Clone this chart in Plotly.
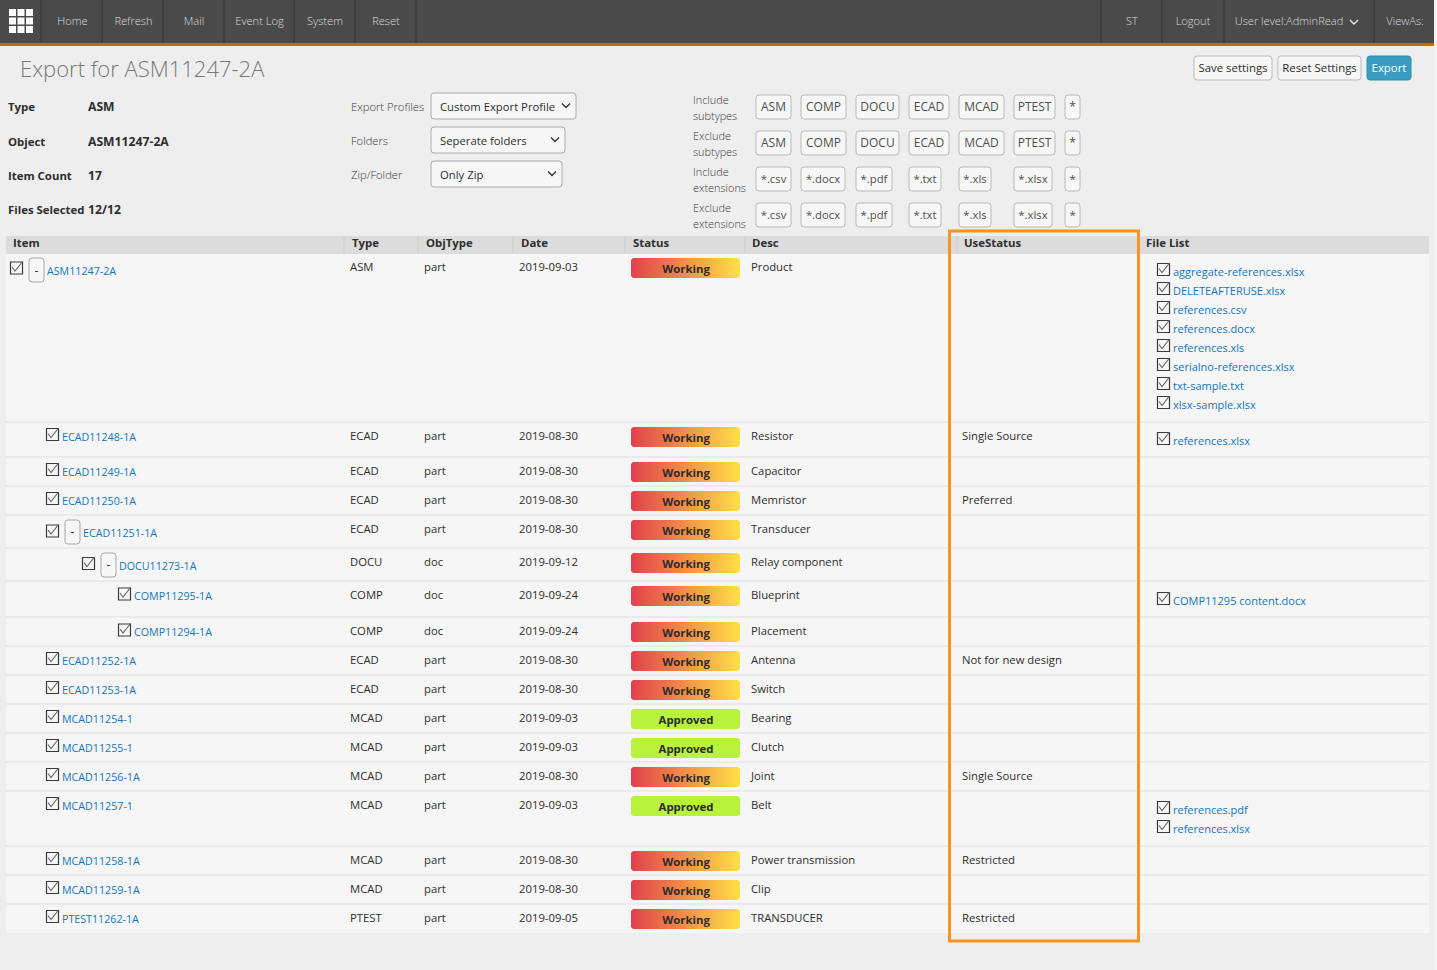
import plotly.graph_objects as go

W, H = 1437, 970
FONT = "Open Sans"

# Table data
item_names = ["ASM11247-2A", "ECAD11248-1A", "ECAD11249-1A", "ECAD11250-1A", "ECAD11251-1A", "DOCU11273-1A",
              "COMP11295-1A", "COMP11294-1A", "ECAD11252-1A", "ECAD11253-1A", "MCAD11254-1", "MCAD11255-1",
              "MCAD11256-1A", "MCAD11257-1", "MCAD11258-1A", "MCAD11259-1A", "PTEST11262-1A"]
item_types = ["ASM", "ECAD", "ECAD", "ECAD", "ECAD", "DOCU", "COMP", "COMP", "ECAD", "ECAD", "MCAD", "MCAD",
              "MCAD", "MCAD", "MCAD", "MCAD", "PTEST"]
obj_types = ["part", "part", "part", "part", "part", "doc", "doc", "doc", "part", "part", "part", "part",
             "part", "part", "part", "part", "part"]
dates = ["2019-09-03", "2019-08-30", "2019-08-30", "2019-08-30", "2019-08-30", "2019-09-12", "2019-09-24",
         "2019-09-24", "2019-08-30", "2019-08-30", "2019-09-03", "2019-09-03", "2019-08-30", "2019-09-03",
         "2019-08-30", "2019-08-30", "2019-09-05"]
statuses = ["Working"] * 10 + ["Approved", "Approved", "Working", "Approved", "Working", "Working", "Working"]
descs = ["Product", "Resistor", "Capacitor", "Memristor", "Transducer", "Relay component", "Blueprint", "Placement",
         "Antenna", "Switch", "Bearing", "Clutch", "Joint", "Belt", "Power transmission", "Clip", "TRANSDUCER"]
use_status = ["", "Single Source", "", "Preferred", "", "", "", "", "Not for new design", "", "", "",
              "Single Source", "", "Restricted", "", "Restricted"]
file_names = ["aggregate-references.xlsx", "DELETEAFTERUSE.xlsx", "references.csv", "references.docx", "references.xls",
              "serialno-references.xlsx", "txt-sample.txt", "xlsx-sample.xlsx", "references.xlsx",
              "COMP11295 content.docx", "references.pdf", "references.xlsx"]

headers = ["Item", "Type", "ObjType", "Date", "Status", "Desc", "UseStatus", "File List"]
nav_left = ["Home", "Refresh", "Mail", "Event Log", "System", "Reset"]
nav_right = ["ST", "Logout", "User level:AdminRead", "ViewAs:"]
info_labels = ["Type", "Object", "Item Count", "Files Selected"]
info_values = ["ASM", "ASM11247-2A", "17", "12/12"]
form_labels = ["Export Profiles", "Folders", "Zip/Folder"]
form_values = ["Custom Export Profile", "Seperate folders", "Only Zip"]
filter_labels = [("Include", "subtypes"), ("Exclude", "subtypes"), ("Include", "extensions"), ("Exclude", "extensions")]
subtype_buttons = ["ASM", "COMP", "DOCU", "ECAD", "MCAD", "PTEST", "*"]
ext_buttons = ["*.csv", "*.docx", "*.pdf", "*.txt", "*.xls", "*.xlsx", "*"]

# Page layout, in pixels
row_tops = [254, 422, 457, 486, 515, 548, 581, 617, 646, 675, 704, 733, 762, 791, 846, 875, 904]
table_bottom = 933
check_x = [16.5, 52.5, 52.5, 52.5, 52.5, 88.5, 124.5, 124.5] + [52.5] * 9
check_dy = [14, 12.5, 12.5, 12.5, 16, 15.5, 13, 13] + [12.5] * 9
link_x = [47, 62, 62, 62, 83, 119, 134, 134] + [62] * 9
link_dy = [17, 15, 15, 15, 18, 18, 15, 15] + [15] * 9
minus_left = {0: 29, 4: 65, 5: 101}
header_x = [13, 352, 426, 521, 633, 752, 964, 1146]
header_div = [344, 418, 513, 625, 745, 957]
file_check_y = [269.5, 288.5, 307.5, 326.5, 345.5, 364.5, 383.5, 402.5, 438.5, 598.5, 807.5, 826.5]
file_text_y = [272, 291, 310, 329, 348, 367, 386, 405, 441, 601, 810, 829]
file_text_x = [1173] * 12
nav_div = [41, 102, 163, 224, 294, 355, 416, 1101, 1162, 1224, 1374]
nav_left_x = [72.5, 133.5, 194, 259.5, 325, 386]
nav_right_x = [1132, 1193, 1289, 1405]
sub_spans = [(756, 791), (801, 846), (856, 899), (909, 949), (959, 1004), (1014, 1055), (1065, 1080)]
ext_spans = [(756, 791), (801, 845), (856, 892), (909, 941), (959, 991), (1014, 1052), (1065, 1080)]
filter_tops = [95, 131, 167, 203]
form_boxes = [(431, 576, 93, 119), (431, 565, 127, 153), (431, 562, 161, 187)]
form_y = [107, 141, 175]
info_y = [107, 142, 176, 210]

DARK = "#2e2e2e"
LINK = "#1476bd"
GREY = "#3a3a3a"


def rrect(x0, x1, y0, y1, r=3):
    return (f"M{x0+r},{y0} L{x1-r},{y0} Q{x1},{y0} {x1},{y0+r} L{x1},{y1-r} Q{x1},{y1} {x1-r},{y1} "
            f"L{x0+r},{y1} Q{x0},{y1} {x0},{y1-r} L{x0},{y0+r} Q{x0},{y0} {x0+r},{y0} Z")


fig = go.Figure()
shapes = []


def rect(x0, x1, y0, y1, fill, line=None, width=1, layer="below"):
    shapes.append(dict(type="rect", x0=x0, x1=x1, y0=y0, y1=y1, fillcolor=fill, layer=layer,
                       line=dict(color=line or "rgba(0,0,0,0)", width=width if line else 0)))


def button(x0, x1, y0, y1, fill="#f7f7f7", line="#b9b9b9", r=3):
    shapes.append(dict(type="path", path=rrect(x0, x1, y0, y1, r), fillcolor=fill, layer="below",
                       line=dict(color=line, width=1)))


def add_text(xs, ys, texts, color=DARK, size=11.3, weight=400, pos="middle right"):
    fig.add_trace(go.Scatter(x=xs, y=ys, text=texts, mode="text", textposition=pos, cliponaxis=False,
                             hoverinfo="skip",
                             textfont=dict(family=FONT, size=size, color=color, weight=weight)))


def add_checks(xs, ys):
    fig.add_trace(go.Scatter(x=xs, y=ys, mode="markers", hoverinfo="skip",
                             marker=dict(symbol="square", size=12, color="#f7f7f7",
                                         line=dict(color="#3a3a3a", width=1.2))))
    lx, ly = [], []
    for x, y in zip(xs, ys):
        lx += [x - 4.5, x - 1.5, x + 6, None]
        ly += [y - 1, y + 3, y - 6.5, None]
    fig.add_trace(go.Scatter(x=lx, y=ly, mode="lines", hoverinfo="skip", line=dict(color="#666666", width=1.1)))


def add_chevron(x, y):
    shapes.append(dict(type="path", path=f"M{x-4},{y-2} L{x},{y+2} L{x+4},{y-2}", layer="above",
                       line=dict(color="#333333", width=1.4)))


# Nav bar
rect(0, 1434, 0, 43, "#4a4a4a")
rect(0, 1434, 43, 46, "#c76b05")
rect(1434, W, 0, H, "#f4f4f4")
for x in nav_div:
    shapes.append(dict(type="line", x0=x, x1=x, y0=0, y1=43, layer="below", line=dict(color="#333333", width=1)))
fig.add_trace(go.Scatter(x=[12.5, 21, 29.5] * 3, y=[12.5] * 3 + [21] * 3 + [29.5] * 3, mode="markers",
                         hoverinfo="skip", marker=dict(symbol="square", size=7, color="#ffffff")))
add_text(nav_left_x, [22] * 6, nav_left, "#dcdcdc", 11.1, 300, "middle center")
add_text(nav_right_x, [22] * 4, nav_right, "#dcdcdc", 11.1, 300, "middle center")
shapes.append(dict(type="path", path="M1350,20 L1354,24 L1358,20", layer="above",
                   line=dict(color="#e8e8e8", width=1.4)))

# Heading and action buttons
add_text([20], [71.5], ["Export for ASM11247-2A"], "#777777", 22, 300)
button(1194, 1272, 56, 80)
button(1278, 1361, 56, 80)
button(1367, 1411, 56, 80, "#3a9cc0", "#2f8fb0")
add_text([1233, 1319.5, 1389], [69.5] * 3, ["Save settings", "Reset Settings", "Export"],
         [DARK, DARK, "#ffffff"], 11.4, 400, "middle center")

# Info block
add_text([8] * 4, [y + 1 for y in info_y], info_labels, DARK, 11.4, 700)
add_text([88] * 4, [y + 1 for y in info_y], info_values, DARK, 12.2, 700)

# Form block
add_text([351] * 3, [y + 1 for y in form_y], form_labels, GREY, 11.2, 300)
for box in form_boxes:
    button(*box, fill="#f7f7f7", line="#aaaaaa")
add_text([440] * 3, [y + 1 for y in form_y], form_values, DARK, 11.3, 400)
add_chevron(566, 105.5)
add_chevron(555, 139.5)
add_chevron(552, 173.5)

# Filter buttons
for top, (a, b) in zip(filter_tops, filter_labels):
    add_text([693, 693], [top + 6, top + 22], [a, b], GREY, 10.9, 300)
for i, top in enumerate(filter_tops):
    spans = sub_spans if i < 2 else ext_spans
    labels = subtype_buttons if i < 2 else ext_buttons
    size = 12 if i < 2 else 11.3
    for s in spans:
        button(s[0], s[1], top, top + 24)
    add_text([(s[0] + s[1]) / 2 for s in spans], [top + 13] * 7, labels, "#4f4f4f", size, 400, "middle center")

# Table
rect(6, 1429, 254, table_bottom, "#f6f6f6")
rect(6, 1429, 236, 254, "#dcdcdc")
for x in header_div:
    shapes.append(dict(type="line", x0=x, x1=x, y0=236, y1=254, layer="below", line=dict(color="#cfcfcf", width=1)))
for y in row_tops[1:]:
    shapes.append(dict(type="line", x0=6, x1=1429, y0=y, y1=y, layer="below", line=dict(color="#dfdfdf", width=1)))
add_text(header_x, [244] * 8, headers, DARK, 11.4, 700)

text_y = [t + (14 if i == 0 else 15) for i, t in enumerate(row_tops)]
add_text([350] * 17, text_y, item_types)
add_text([424] * 17, text_y, obj_types)
add_text([519] * 17, text_y, dates)
add_text([751] * 17, text_y, descs)
add_text([962] * 17, text_y, use_status)

# Status badges
for top, status in zip(row_tops, statuses):
    y0 = top + (4 if top == 254 else 5)
    y1 = y0 + 20
    bx = [633, 738, 740, 740, 738, 633, 631, 631, 633]
    by = [y0, y0, y0 + 2, y1 - 2, y1, y1, y1 - 2, y0 + 2, y0]
    if status == "Working":
        fig.add_trace(go.Scatter(x=bx, y=by, mode="lines", fill="toself", hoverinfo="skip", line=dict(width=0),
                                 fillgradient=dict(type="horizontal",
                                                   colorscale=[[0, "#e2404c"], [0.5, "#f29048"], [1, "#ffe045"]])))
    else:
        fig.add_trace(go.Scatter(x=bx, y=by, mode="lines", fill="toself", hoverinfo="skip", line=dict(width=0),
                                 fillcolor="#b8f23a"))
add_text([686] * 17, [t + (16 if i == 0 else 17) for i, t in enumerate(row_tops)], statuses, "#2b2b2b", 11.4, 700,
         "middle center")

# Item column
for i, left in minus_left.items():
    y0 = row_tops[i] + (4 if i == 0 else 5)
    button(left, left + 15, y0, y0 + 24, line="#a8a8a8")
add_text([left + 7.5 for left in minus_left.values()],
         [row_tops[i] + 18 for i in minus_left], ["-"] * 3, DARK, 12, 400, "middle center")
add_checks(check_x, [t + d for t, d in zip(row_tops, check_dy)])
add_text(link_x, [t + d + 1 for t, d in zip(row_tops, link_dy)], item_names, LINK, 10.7, 400)

# File list
add_checks([1163.5] * 12, file_check_y)
add_text(file_text_x, [y + 1 for y in file_text_y], file_names, LINK, 11, 400)

# Orange highlight box
rect(949.5, 1138.5, 231, 941, "rgba(0,0,0,0)", "#f7931e", 3, layer="above")

fig.update_layout(width=W, height=H, margin=dict(l=0, r=0, t=0, b=0), showlegend=False, hovermode=False,
                  paper_bgcolor="#eeeeee", plot_bgcolor="#eeeeee", shapes=shapes,
                  xaxis=dict(range=[0, W], visible=False, fixedrange=True),
                  yaxis=dict(range=[H, 0], visible=False, fixedrange=True))

fig.write_html("out.html", config={"displayModeBar": False},
               post_script="document.body.style.margin='0';document.body.style.overflow='hidden';")
